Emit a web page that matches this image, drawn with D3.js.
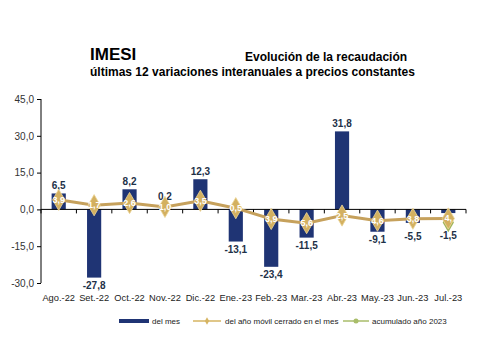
<!DOCTYPE html>
<html><head><meta charset="utf-8">
<script src="https://cdn.jsdelivr.net/npm/d3@7"></script>
<style>body{margin:0;background:#fff;}svg{display:block;font-family:"Liberation Sans",Arial,sans-serif;}</style>
</head><body><svg id="c" width="496" height="356"></svg>
<script>
const categories = ["Ago.-22","Set.-22","Oct.-22","Nov.-22","Dic.-22","Ene.-23","Feb.-23","Mar.-23","Abr.-23","May.-23","Jun.-23","Jul.-23"];
const delMes = [6.5,-27.8,8.2,0.2,12.3,-13.1,-23.4,-11.5,31.8,-9.1,-5.5,-1.5];
const anioMovil = [3.9,1.7,2.6,1.0,3.5,0.5,-3.9,-5.6,-2.5,-4.6,-3.8,-3.7];
const anioMovilLabels = ["3,9","1,7","2,6","1,0","3,5","0,5","3,9","5,6","2,5","4,6","3,8","4,"];
const acumulado2023 = [null,null,null,null,null,null,null,null,null,null,null,-5.3];
const yTicks = [45,30,15,0,-15,-30];

const svg = d3.select("#c");
const fmt = v => d3.format(".1f")(v).replace(".", ",").replace("\u2212", "-");
const x = d3.scaleBand().domain(categories).range([41,466]).paddingInner(0.6).paddingOuter(0.3);
const xc = d3.scaleBand().domain(categories).range([41,466]);
const y = d3.scaleLinear().domain([-30,45]).range([283,99]);

svg.append("text").attr("x",90).attr("y",60).attr("font-size",17).attr("font-weight","bold").text("IMESI");
svg.append("text").attr("x",245).attr("y",61).attr("font-size",12).attr("font-weight","bold").text("Evolución de la recaudación");
svg.append("text").attr("x",90).attr("y",76).attr("font-size",12).attr("font-weight","bold").text("últimas 12 variaciones interanuales a precios constantes");

// y axis
const ya = svg.append("g").attr("transform","translate(41,0)")
  .call(d3.axisLeft(y).tickValues(yTicks).tickSize(4).tickFormat(fmt));
ya.select(".domain").attr("stroke","#000").attr("d","M0,99V283");
ya.selectAll("text").attr("font-size",10).attr("fill","#333").attr("font-family","Liberation Sans, Arial, sans-serif");

// bars
svg.selectAll("rect.bar").data(delMes).join("rect").attr("class","bar")
  .attr("x",(d,i)=>x(categories[i])).attr("width",x.bandwidth())
  .attr("y",d=>y(Math.max(0,d))).attr("height",d=>Math.abs(y(d)-y(0)))
  .attr("fill","#1f3474");

// x axis at zero
const xa = svg.append("g").attr("transform",`translate(0,${y(0)})`);
xa.append("line").attr("x1",41).attr("x2",466).attr("stroke","#000");
xa.selectAll("line.t").data(categories.concat(["end"])).join("line").attr("class","t")
  .attr("x1",(d,i)=>41+i*xc.step()).attr("x2",(d,i)=>41+i*xc.step()).attr("y1",0).attr("y2",4).attr("stroke","#000");

// category labels
svg.selectAll("text.cat").data(categories).join("text").attr("class","cat")
  .attr("x",d=>xc(d)+xc.bandwidth()/2).attr("y",301).attr("text-anchor","middle")
  .attr("font-size",9.3).attr("fill","#222").text(d=>d);

// bar labels
svg.selectAll("text.bl").data(delMes).join("text").attr("class","bl")
  .attr("x",(d,i)=>xc(categories[i])+xc.bandwidth()/2)
  .attr("y",(d,i)=>d>=0? Math.min(y(d)-4, y(anioMovil[i])-7) : Math.max(y(d)+11, y(anioMovil[i])+21))
  .attr("text-anchor","middle").attr("font-size",10).attr("font-weight","bold").attr("fill","#1e3148")
  .text(d=>fmt(d));

// line
const cx = i => xc(categories[i])+xc.bandwidth()/2;
const line = d3.line().x((d,i)=>cx(i)).y(d=>y(d));
svg.append("path").datum(anioMovil).attr("d",line).attr("fill","none").attr("stroke","#c6a15c").attr("stroke-width",3);

// acumulado marker
acumulado2023.forEach((v,i)=>{
  if(v==null) return;
  svg.append("path").attr("d",d3.symbol(d3.symbolDiamond,110)()).attr("transform",`translate(${cx(i)},${y(v)})`).attr("fill","#9fb45a");
});

const g = svg.selectAll("g.m").data(anioMovil).join("g").attr("class","m")
  .attr("transform",(d,i)=>`translate(${cx(i)},${y(d)})`);
g.append("path").attr("d",d3.symbol(d3.symbolDiamond,130)()).attr("fill","#d3b060").attr("stroke","#ecd598").attr("stroke-width",0.8);
g.append("text").attr("y",3).attr("text-anchor","middle").attr("font-size",9).attr("fill","#fff").attr("font-weight","bold")
  .text((d,i)=>anioMovilLabels[i]);

// legend
const lg = svg.append("g").attr("transform","translate(0,321)");
lg.append("rect").attr("x",119).attr("y",-2).attr("width",30).attr("height",4).attr("fill","#1f3474");
lg.append("text").attr("x",152).attr("y",3).attr("font-size",8).attr("fill","#222").text("del mes");
lg.append("line").attr("x1",193).attr("x2",221).attr("stroke","#d6b462").attr("stroke-width",1.5);
lg.append("path").attr("d",d3.symbol(d3.symbolDiamond,16)()).attr("transform","translate(207,0)").attr("fill","#d6b462");
lg.append("text").attr("x",225).attr("y",3).attr("font-size",8).attr("fill","#222").text("del año móvil cerrado en el mes");
lg.append("line").attr("x1",343).attr("x2",369).attr("stroke","#a9bd6a").attr("stroke-width",1.5);
lg.append("circle").attr("cx",356).attr("cy",0).attr("r",2.5).attr("fill","#a9bd6a");
lg.append("text").attr("x",372).attr("y",3).attr("font-size",8).attr("fill","#222").text("acumulado año 2023");
</script></body></html>
